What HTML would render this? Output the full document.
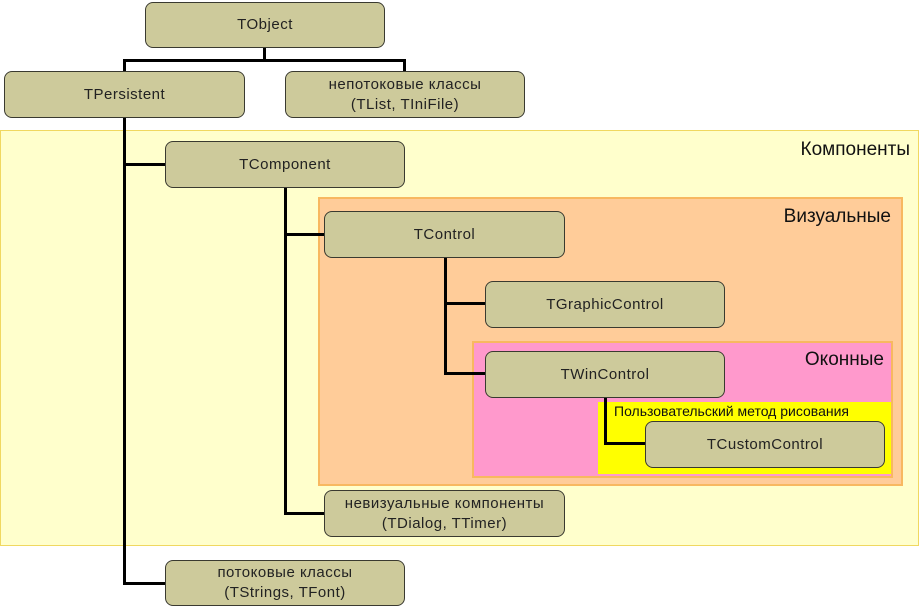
<!DOCTYPE html>
<html><head><meta charset="utf-8"><style>
body{margin:0;width:920px;height:607px;background:#fff;position:relative;overflow:hidden;font-family:"Liberation Sans","DejaVu Sans",sans-serif;}
.r{position:absolute;box-sizing:border-box;}
.b{position:absolute;box-sizing:border-box;background:#cdca9b;border:1.5px solid #3a3a30;border-radius:8px;display:flex;align-items:center;justify-content:center;text-align:center;font-size:15px;letter-spacing:0.5px;color:#222;line-height:20px;}
.l{position:absolute;background:#000;}
.t{position:absolute;color:#111;}
</style></head><body>
<div class="r" style="left:0;top:130px;width:919px;height:416px;background:#ffffcc;border:1.5px solid #f0d860;"></div>
<div class="r" style="left:318px;top:197px;width:585px;height:289px;background:#ffcc99;border:2px solid #f8b860;"></div>
<div class="r" style="left:472px;top:341px;width:421px;height:137px;background:#ff99cc;border:2px solid #f8b860;"></div>
<div class="r" style="left:598px;top:402px;width:293px;height:72px;background:#ffff00;"></div>
<div class="t" style="right:10px;top:139px;font-size:19px;">Компоненты</div>
<div class="t" style="right:29px;top:206px;font-size:19px;">Визуальные</div>
<div class="t" style="right:36px;top:349px;font-size:19px;">Оконные</div>
<div class="t" style="left:614px;top:403px;font-size:14px;">Пользовательский метод рисования</div>
<div class="l" style="left:263px;top:47px;width:3px;height:14px;"></div>
<div class="l" style="left:123px;top:59px;width:283px;height:3px;"></div>
<div class="l" style="left:123px;top:59px;width:3px;height:13px;"></div>
<div class="l" style="left:403px;top:59px;width:3px;height:13px;"></div>
<div class="l" style="left:123px;top:117px;width:3px;height:468px;"></div>
<div class="l" style="left:123px;top:163px;width:43px;height:3px;"></div>
<div class="l" style="left:123px;top:582px;width:43px;height:3px;"></div>
<div class="l" style="left:284px;top:187px;width:3px;height:328px;"></div>
<div class="l" style="left:284px;top:233px;width:41px;height:3px;"></div>
<div class="l" style="left:284px;top:512px;width:41px;height:3px;"></div>
<div class="l" style="left:444px;top:257px;width:3px;height:118px;"></div>
<div class="l" style="left:444px;top:302px;width:42px;height:3px;"></div>
<div class="l" style="left:444px;top:372px;width:42px;height:3px;"></div>
<div class="l" style="left:604px;top:397px;width:3px;height:48px;"></div>
<div class="l" style="left:604px;top:442px;width:42px;height:3px;"></div>
<div class="b" style="left:145px;top:2px;width:240px;height:46px;">TObject</div>
<div class="b" style="left:4px;top:71px;width:241px;height:47px;">TPersistent</div>
<div class="b" style="left:285px;top:71px;width:240px;height:47px;">непотоковые классы<br>(TList, TIniFile)</div>
<div class="b" style="left:165px;top:141px;width:240px;height:47px;">TComponent</div>
<div class="b" style="left:324px;top:211px;width:241px;height:47px;">TControl</div>
<div class="b" style="left:485px;top:281px;width:240px;height:47px;">TGraphicControl</div>
<div class="b" style="left:485px;top:351px;width:240px;height:47px;">TWinControl</div>
<div class="b" style="left:645px;top:421px;width:240px;height:47px;">TCustomControl</div>
<div class="b" style="left:324px;top:490px;width:241px;height:47px;">невизуальные компоненты<br>(TDialog, TTimer)</div>
<div class="b" style="left:165px;top:560px;width:240px;height:46px;">потоковые классы<br>(TStrings, TFont)</div>
</body></html>
